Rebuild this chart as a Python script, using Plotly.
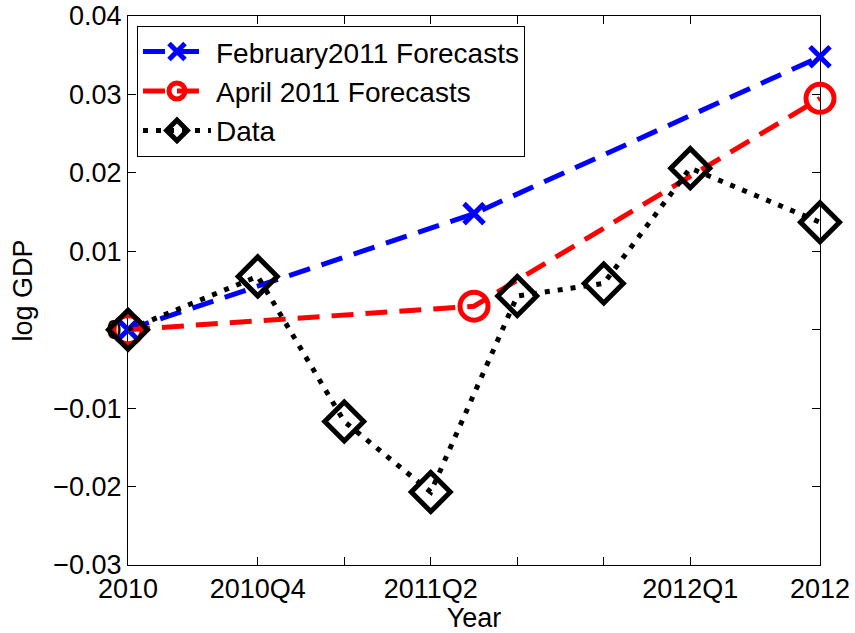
import plotly.graph_objects as go

# x positions (quarter index from 2010)
data_x = [0, 1.5, 2.5, 3.5, 4.5, 5.5, 6.5, 8]
data_y = [0.0, 0.0068, -0.0117, -0.0207, 0.0043, 0.0059, 0.0206, 0.0137]

feb_x = [0, 4, 8]
feb_y = [0.0, 0.0148, 0.0348]

apr_x = [0, 4, 8]
apr_y = [0.0, 0.0030, 0.0295]

x_tickvals = [0, 1.5, 2.5, 3.5, 4.5, 5.5, 6.5, 8]
x_ticktext = ["2010", "2010Q4", "", "2011Q2", "", "", "2012Q1", "2012"]
y_tickvals = [-0.03, -0.02, -0.01, 0, 0.01, 0.02, 0.03, 0.04]
y_ticktext = ["\u22120.03", "\u22120.02", "\u22120.01", "0", "0.01", "0.02", "0.03", "0.04"]

FONT = "Liberation Sans, Arial, sans-serif"
FS = 27

fig = go.Figure()
fig.add_trace(go.Scatter(
    x=feb_x, y=feb_y, name="February2011 Forecasts", mode="lines+markers",
    line=dict(color="#0000ff", width=5, dash="22px,12px"),
    marker=dict(symbol="x-thin-open", size=20, line=dict(color="#0000ff", width=5)),
    cliponaxis=False,
))
fig.add_trace(go.Scatter(
    x=apr_x, y=apr_y, name="April 2011 Forecasts", mode="lines+markers",
    line=dict(color="#ff0000", width=5, dash="22px,12px"),
    marker=dict(symbol="circle-open", size=28, line=dict(color="#ff0000", width=5)),
    cliponaxis=False,
))
fig.add_trace(go.Scatter(
    x=data_x, y=data_y, name="Data", mode="lines+markers",
    line=dict(color="#000000", width=5, dash="5px,8px"),
    marker=dict(symbol="diamond-open", size=30, line=dict(color="#000000", width=5)),
    cliponaxis=False,
))

axis_common = dict(
    showline=True, linecolor="black", linewidth=1, mirror="ticks",
    ticks="inside", ticklen=8, tickcolor="black", tickwidth=1,
    showgrid=False, zeroline=False, automargin=False,
    tickfont=dict(family=FONT, size=FS, color="black"),
)

fig.update_layout(
    width=855, height=633,
    margin=dict(l=128, r=35, t=16, b=68),
    paper_bgcolor="white", plot_bgcolor="white",
    font=dict(family=FONT, size=FS, color="black"),
    showlegend=True,
    legend=dict(
        x=0.013, y=0.982, xanchor="left", yanchor="top",
        bgcolor="white", bordercolor="black", borderwidth=1,
        font=dict(family=FONT, size=28, color="black"),
        tracegroupgap=0, itemwidth=68,
    ),
    xaxis=dict(
        range=[0, 8], tickmode="array", tickvals=x_tickvals, ticktext=x_ticktext,
        title=dict(text="Year", font=dict(family=FONT, size=FS), standoff=0),
        **axis_common,
    ),
    yaxis=dict(
        range=[-0.03, 0.04], tickmode="array", tickvals=y_tickvals, ticktext=y_ticktext,
        title=dict(text="log GDP", font=dict(family=FONT, size=FS), standoff=12),
        layer="below traces",
        **axis_common,
    ),
)

fig.write_html("out.html")
